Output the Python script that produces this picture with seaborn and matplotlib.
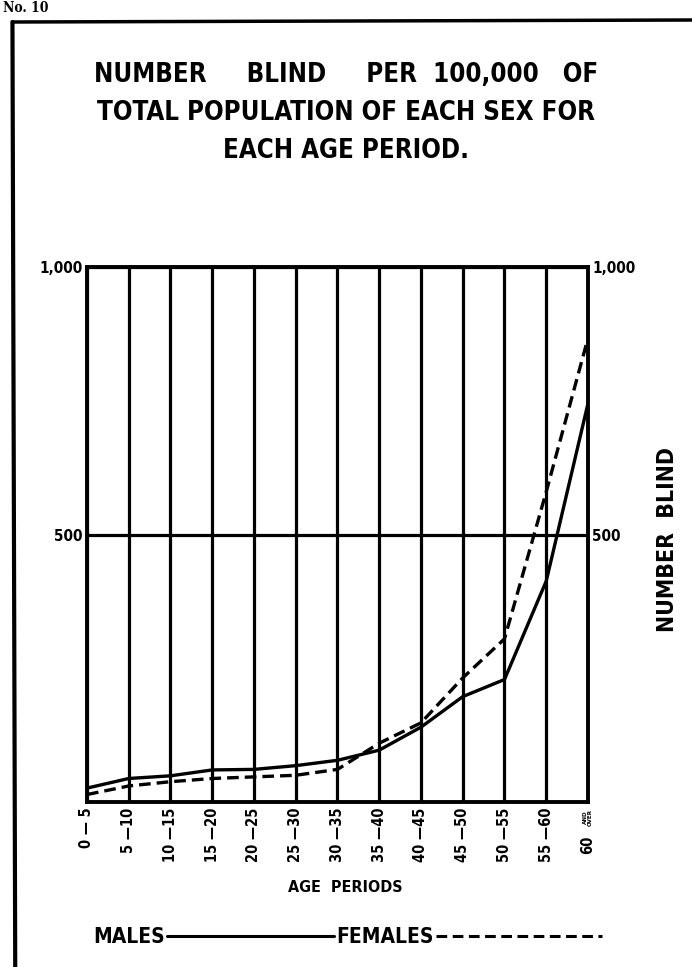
import matplotlib
matplotlib.use('Agg')
import matplotlib.pyplot as plt
from matplotlib.lines import Line2D
import numpy as np
import pandas as pd
import seaborn as sns

# ---------------------------------------------------------------------------
# Dados
# ---------------------------------------------------------------------------
AGE_PERIODS = ['0 — 5', '5 —10', '10 —15', '15 —20', '20 —25', '25 —30',
               '30 —35', '35 —40', '40 —45', '45 —50', '50 —55', '55 —60', '60']
MALES   = [26, 44, 49, 60, 61, 68, 78, 97, 140, 197, 229, 413, 745]
FEMALES = [14, 30, 38, 44, 47, 50, 61, 110, 148, 232, 305, 580, 867]
Y_TICKS = [500, 1000]
Y_TICK_LABELS = ['500', '1,000']

TITLE_LINES = ['NUMBER     BLIND     PER  100,000   OF',
               'TOTAL POPULATION OF EACH SEX FOR',
               'EACH AGE PERIOD.']

sns.set_theme(style='white')
FONT = ['DejaVu Sans']
plt.rcParams['font.family'] = FONT
plt.rcParams['font.stretch'] = 'condensed'
plt.rcParams['font.weight'] = 'bold'
for k in ['text.color', 'axes.labelcolor', 'xtick.color', 'ytick.color']:
    plt.rcParams[k] = 'black'

LW = 2.3
DASH = (0, (3.5, 1.8))

df = pd.DataFrame({'pos': np.arange(len(AGE_PERIODS)), 'males': MALES, 'females': FEMALES})

fig = plt.figure(figsize=(6.92, 9.67), dpi=100)
ax = fig.add_axes([0.1257, 0.1706, 0.7240, 0.5533])

sns.lineplot(data=df, x='pos', y='males', ax=ax, color='black', lw=2.4)
sns.lineplot(data=df, x='pos', y='females', ax=ax, color='black', lw=2.4,
             dashes=False, linestyle=DASH)

ax.set_xlim(0, len(AGE_PERIODS) - 1)
ax.set_ylim(0, 1000)
ax.set_xticks(df['pos'])
ax.set_xticklabels(AGE_PERIODS, rotation=90, fontsize=10.5, fontweight='bold')
ax.set_yticks(Y_TICKS)
ax.set_yticklabels(Y_TICK_LABELS, fontsize=11, fontweight='bold')
ax.tick_params(axis='y', length=0, pad=3, labelright=True)
ax.tick_params(axis='x', length=0, pad=4)
ax.xaxis.get_major_ticks()[-1].set_pad(24)
ax.text(len(AGE_PERIODS) - 1, -0.012, 'AND\nOVER', transform=ax.get_xaxis_transform(),
        rotation=90, ha='center', va='top', fontsize=4.5, fontweight='bold', linespacing=0.9)

ax.grid(True, axis='both', color='black', lw=LW)
ax.set_axisbelow(True)
for sp in ax.spines.values():
    sp.set_color('black')
    sp.set_linewidth(LW + 0.5)

ax.set_xlabel('AGE  PERIODS', fontsize=11.5, fontweight='bold')
ax.xaxis.set_label_coords(0.515, -0.145)
ax.yaxis.set_label_position('right')
ax.set_ylabel('NUMBER  BLIND', fontsize=16.5, fontweight='bold', rotation=90)
ax.yaxis.set_label_coords(1.135, 0.49)

# titulo
for i, line in enumerate(TITLE_LINES):
    fig.text(0.5, 1 - (75 + 38 * i) / 967, line, ha='center', va='center',
             fontsize=18.5, fontweight='bold')

# legenda
handles = [Line2D([], [], color='black', lw=2.2),
           Line2D([], [], color='black', lw=2.2, linestyle=DASH)]
fig.legend(handles, ['MALES', 'FEMALES'], loc='center', ncol=2, frameon=False,
           bbox_to_anchor=(348 / 692, 1 - 937 / 967), markerfirst=False,
           handlelength=8.0, handletextpad=0.1, columnspacing=0.1,
           prop={'family': FONT, 'weight': 'bold', 'size': 15})

# moldura da pagina
fig.add_artist(Line2D([0.018, 1.0], [1 - 22 / 967, 1 - 20 / 967], color='black', lw=2.5,
                      transform=fig.transFigure))
fig.add_artist(Line2D([0.018, 0.022], [1 - 22 / 967, 0.0], color='black', lw=3,
                      transform=fig.transFigure))
fig.text(0.005, 0.999, 'No. 10', ha='left', va='top', fontsize=10,
         fontweight='bold', family='DejaVu Serif')

fig.savefig('out.png', dpi=100, facecolor='white')
